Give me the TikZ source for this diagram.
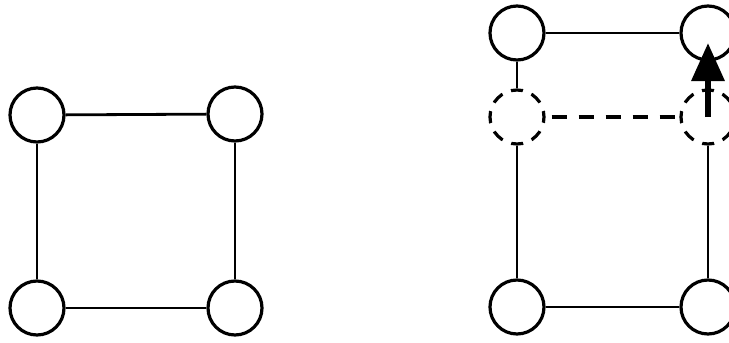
\documentclass[tikz,border=0pt]{standalone}
\usetikzlibrary{arrows.meta,calc}

\begin{document}
\begin{tikzpicture}[
        x=1pt, y=-1pt,
        site/.style={circle, draw, line width=3.2pt, fill=white, minimum size=54pt, inner sep=0pt},
        ghost/.style={site, fill=none, dash pattern=on 12pt off 9.2pt, dash phase=6pt},
        bond/.style={line width=2.8pt},
        dbond/.style={line width=3.4pt, dash pattern=on 15pt off 12pt, dash phase=21pt},
        hop/.style={line width=6.5pt, -{Triangle[length=38pt,width=32pt]}, shorten >=10pt}
    ]
        \useasboundingbox (0,0) rectangle (729,343);

        % left plaquette
        \node[site] (a1) at (37,115) {};
        \node[site] (a2) at (235,114) {};
        \node[site] (a3) at (37,308) {};
        \node[site] (a4) at (235,308) {};
        \draw[bond] (a1) -- (a2);
        \draw[bond] (a2) -- (a4);
        \draw[bond] (a4) -- (a3);
        \draw[bond] (a3) -- (a1);

        % right plaquette, stretched
        \node[site] (b1) at (517,33) {};
        \node[site] (b2) at (708,33) {};
        \node[ghost] (b5) at (517,117) {};
        \node[ghost] (b6) at (708,117) {};
        \node[site] (b3) at (517,307) {};
        \node[site] (b4) at (708,307) {};
        \draw[bond] (b1) -- (b2);
        \draw[bond] (b1) -- (b5);
        \draw[bond] (b5) -- (b3);
        \draw[bond] (b6) -- (b4);
        \draw[bond] (b3) -- (b4);
        \draw[dbond] (b5) -- (b6);
        \draw[hop] (b6.center) -- (b2.center);
    \end{tikzpicture}
\end{document}
